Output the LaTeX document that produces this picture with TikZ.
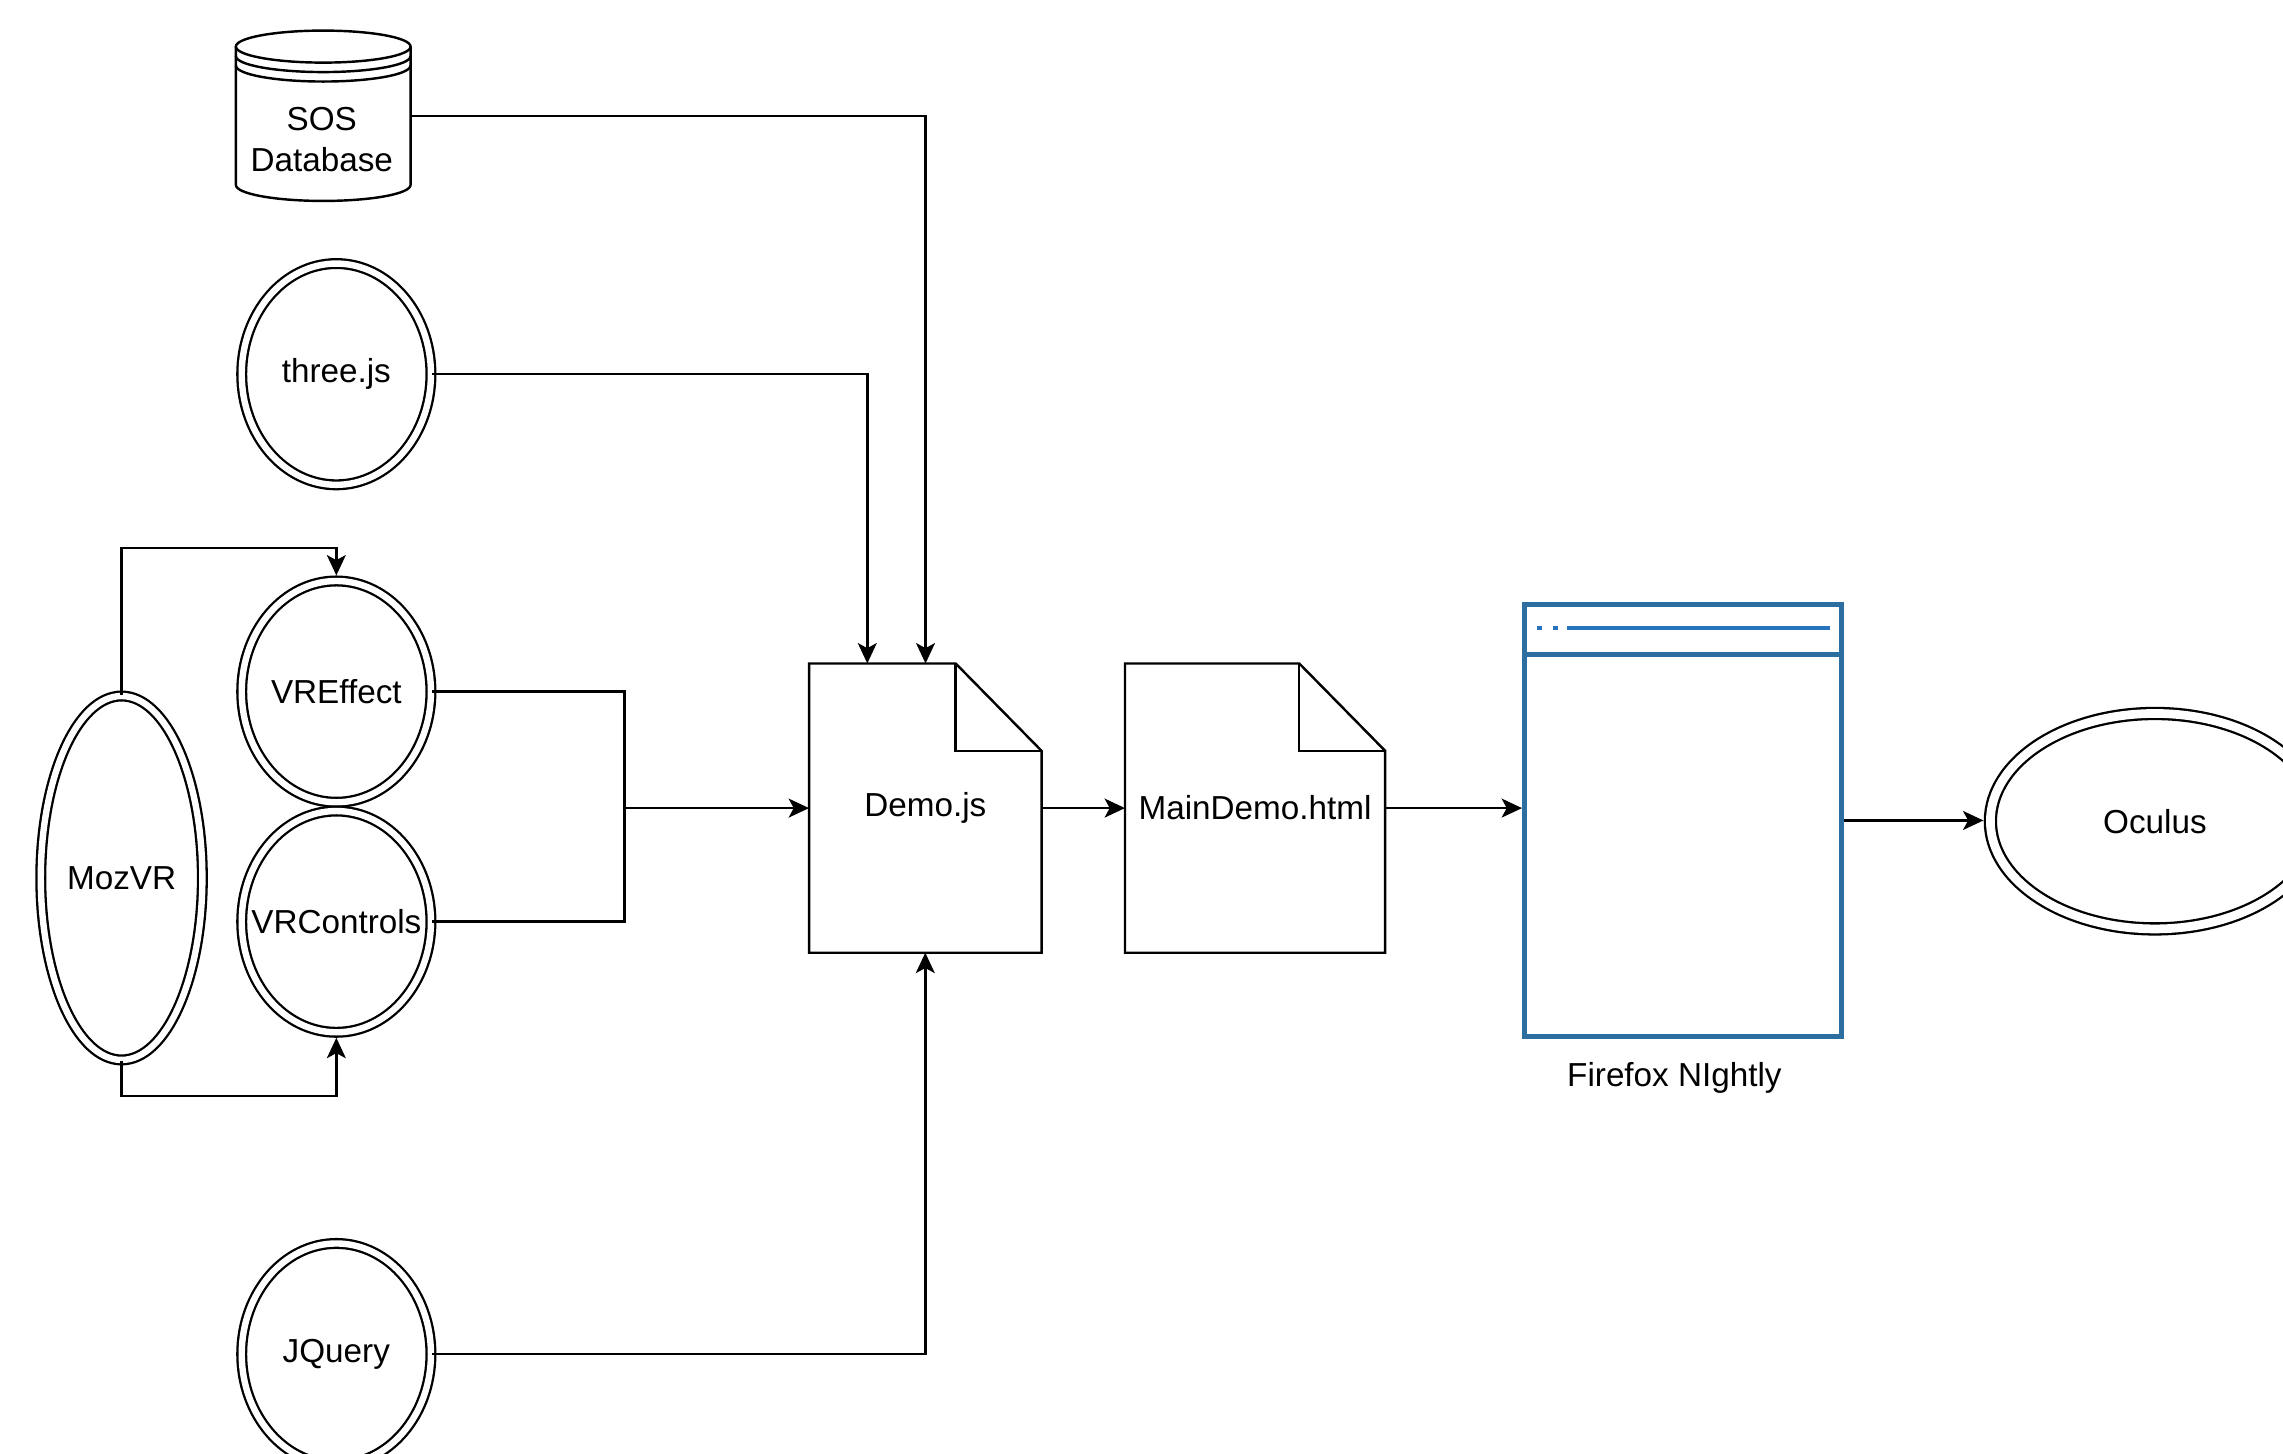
\documentclass[tikz,border=0pt]{standalone}
\usepackage{fontspec}
\setmainfont{Liberation Sans}
\usetikzlibrary{shapes.geometric,arrows.meta,calc}
\definecolor{ffblue}{RGB}{45,110,160}
\definecolor{ffline}{RGB}{40,115,190}
\begin{document}
\begin{tikzpicture}[x=0.02cm,y=-0.02cm,
  every node/.style={font=\fontsize{13}{16}\selectfont},
  ln/.style={line width=0.95pt, black},
  arr/.style={ln, -{Stealth[length=2.8mm,width=2.6mm,inset=0.7mm]}},
  dbl/.style={ellipse, draw, line width=0.9pt, double, double distance=0.088cm, inner sep=0pt},
  circ/.style={dbl, minimum width=2.6cm, minimum height=3.04cm},
  docbox/.style={rectangle, inner sep=0pt, minimum height=3.96cm},
]
\useasboundingbox (0,0) rectangle (1568,998);

% SOS Database (cylinder)
\node[rectangle, inner sep=0pt, minimum width=2.4cm, minimum height=2.34cm] (sos) at (222,79.5) {};
\draw[ln, fill=white] (162,32) -- (162,127) arc[start angle=180, end angle=360, x radius=1.2cm, y radius=0.22cm] -- (282,32);
\draw[ln] (222,32) ellipse [x radius=1.2cm, y radius=0.22cm];
\draw[ln] (162,38.5) arc[start angle=180, end angle=360, x radius=1.2cm, y radius=0.22cm];
\draw[ln] (162,45) arc[start angle=180, end angle=360, x radius=1.2cm, y radius=0.22cm];
\node[align=center, inner sep=0pt] (sostxt) at (221,96) {SOS\\Database};

% circles
\node[circ] (three) at (231,257) {three.js};
\node[circ] (vre) at (231,475) {VREffect};
\node[circ] (vrc) at (231,633) {\makebox[0pt]{VRControls}};
\node[circ] (jq) at (231,930) {JQuery};
\node[dbl, minimum width=2.22cm, minimum height=5.0cm] (moz) at (83.5,603) {MozVR};
\node[ellipse, draw, line width=0.9pt, double, double distance=0.12cm, inner sep=0pt,
      minimum width=4.52cm, minimum height=2.96cm] (oc) at (1480,564) {Oculus};

% documents
\node[docbox, minimum width=3.18cm] (demo) at (635.5,555) {Demo.js};
\draw[ln] (demo.north west) -- ($(demo.north east)+(-59,0)$) -- ($(demo.north east)+(0,60)$) -- (demo.south east) -- (demo.south west) -- cycle;
\draw[ln] ($(demo.north east)+(-59,0)$) -- ($(demo.north east)+(-59,60)$) -- ($(demo.north east)+(0,60)$);

\node[docbox, minimum width=3.56cm] (md) at (862,555) {MainDemo.html};
\draw[ln] (md.north west) -- ($(md.north east)+(-59,0)$) -- ($(md.north east)+(0,60)$) -- (md.south east) -- (md.south west) -- cycle;
\draw[ln] ($(md.north east)+(-59,0)$) -- ($(md.north east)+(-59,60)$) -- ($(md.north east)+(0,60)$);

% Firefox window
\node[draw=ffblue, line width=1.9pt, inner sep=0pt, minimum width=4.36cm, minimum height=5.94cm] (ff) at (1156,563.5) {};
\draw[ffblue, line width=1.9pt] ($(ff.north west)+(0,36)$) -- ($(ff.north east)+(0,36)$);
\draw[ffline, line width=1.4pt] ($(ff.north west)+(31,18)$) -- ($(ff.north east)+(-10,18)$);
\fill[ffline] ($(ff.north west)+(10.5,16.7)$) rectangle ($(ff.north west)+(13.5,19.3)$);
\fill[ffline] ($(ff.north west)+(21.5,16.7)$) rectangle ($(ff.north west)+(24.5,19.3)$);
\node (fflabel) at (1150,740) {Firefox NIghtly};

% connectors
\draw[arr] (sos.east) -| ($(demo.north west)+(80,0)$);
\draw[arr] (three.east) -| ($(demo.north west)+(40,0)$);
\draw[arr] (jq.east) -| (demo.south);
\coordinate (j) at (429,555);
\draw[ln] (vre.east) -| (j);
\draw[ln] (vrc.east) -| (j);
\draw[arr] (j) -- (demo.west);
\draw[arr, shorten >=0.06cm] (moz.north) |- ($(vre.north)+(0,-22)$) -- (vre.north);
\draw[arr, shorten >=0.06cm] (moz.south) |- ($(vrc.south)+(0,43)$) -- (vrc.south);
\draw[arr] (demo.east) -- (md.west);
\draw[arr] (md.east) -- (md.east -| ff.west);
\draw[arr, shorten >=0.08cm] (ff.east) -- (ff.east -| oc.west);
\end{tikzpicture}
\end{document}
